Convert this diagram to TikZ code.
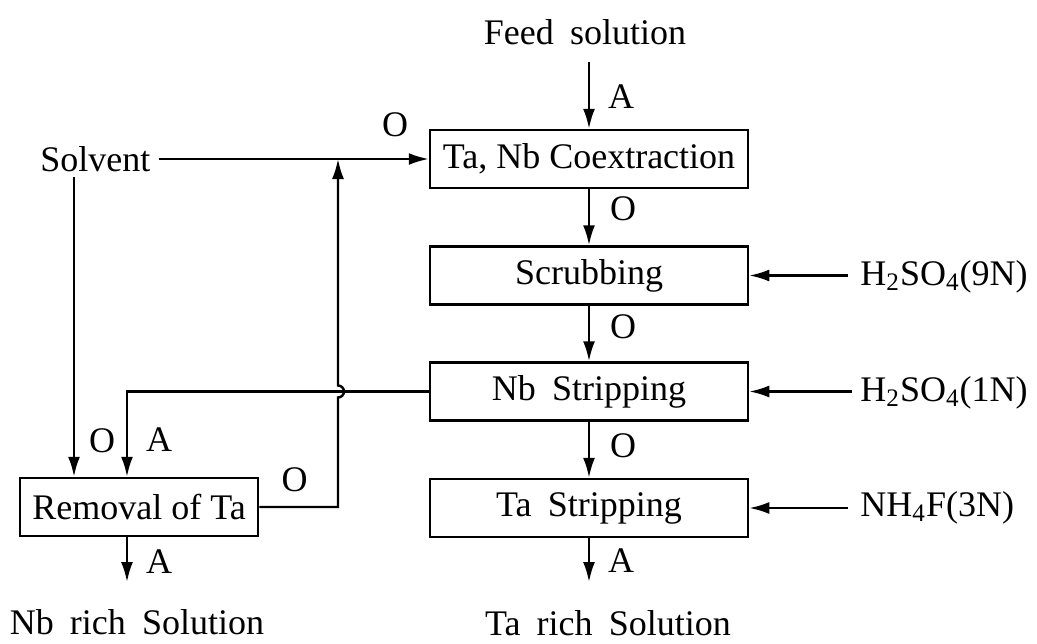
\documentclass[tikz,border=0pt]{standalone}
\usepackage{fontspec}
\setmainfont{Liberation Serif}
\usetikzlibrary{arrows.meta}
\newcommand\wsp{\hspace{0.45em}}
\begin{document}
\begin{tikzpicture}[x=0.5pt,y=-0.5pt,
  txt/.style={font=\fontsize{18}{21}\selectfont},
  box/.style={draw,line width=1.25pt,minimum height=29pt,inner sep=0pt,txt},
  lbl/.style={inner sep=0pt,txt},
  flow/.style={line width=1.2pt,-{Latex[length=10pt,width=6pt]}},
  plain/.style={line width=1.2pt}]
\fill[white] (0,0) rectangle (1037,643);
\useasboundingbox (0,0) rectangle (1037,643);

% process boxes
\node[box,minimum width=159pt] (coex)  at (589,159)   {Ta, Nb Coextraction};
\node[box,minimum width=159pt] (scrub) at (589,275.5) {Scrubbing};
\node[box,minimum width=159pt] (nbs)   at (589,391.5) {Nb\wsp Stripping};
\node[box,minimum width=159pt] (tas)   at (589,508)   {Ta\wsp Stripping};
\node[box,minimum width=119pt] (rem)   at (139,507)   {Removal of Ta};

% texts
\node[lbl] (feed) at (585,32) {Feed\wsp solution};
\node[lbl,anchor=west] (solv) at (40,159) {Solvent};
\node[lbl,anchor=west] (h9) at (860,277) {H\textsubscript{2}SO\textsubscript{4}(9N)};
\node[lbl,anchor=west] (h1) at (860,393) {H\textsubscript{2}SO\textsubscript{4}(1N)};
\node[lbl,anchor=west] (nh) at (860,508) {NH\textsubscript{4}F(3N)};
\node[lbl] (nbsol) at (137,622) {Nb\wsp rich\wsp Solution};
\node[lbl] (tasol) at (608,623) {Ta\wsp rich\wsp Solution};
\node[lbl] (osolv) at (395,125) {O};

% helper coordinates
\coordinate (f0) at (589,62);
\coordinate (j)  at (338,159);
\coordinate (cr) at (338,391.5);
\coordinate (a1) at (127,391.5);
\coordinate (s1) at (74,177);
\coordinate (r1) at (848,275.5);
\coordinate (r2) at (852,391.5);
\coordinate (r3) at (848,508);
\coordinate (nbend) at (127,582);
\coordinate (taend) at (589,582);

% main column
\draw[flow] (f0) -- node[lbl,right=9pt,pos=0.52]{A} (coex.north);
\draw[flow] (coex.south) -- node[lbl,right=10pt,pos=0.35]{O} (scrub.north);
\draw[flow] (scrub.south) -- node[lbl,right=10pt,pos=0.38]{O} (nbs.north);
\draw[flow] (nbs.south) -- node[lbl,right=10pt,pos=0.42]{O} (tas.north);
\draw[flow] (tas.south) -- node[lbl,right=9pt,pos=0.5]{A} (taend);

% right feeds
\draw[flow] (r1) -- (scrub.east);
\draw[flow] (r2) -- (nbs.east);
\draw[flow] (r3) -- (tas.east);

% solvent
\draw[flow] ([xshift=4pt]solv.east) -- (coex.west);
\draw[flow] (s1) -- node[lbl,right=7pt,pos=0.88]{O} (s1 |- rem.north);

% Nb stripping aqueous to removal of Ta
\draw[flow] (nbs.west) -- (a1) -- node[lbl,right=9pt,pos=0.56]{A} (a1 |- rem.north);

% removal of Ta organic recycle
\draw[flow] (rem.east) -- node[lbl,above=7pt,pos=0.45]{O} (rem.east -| j)
  -- ([yshift=-3pt]cr) arc[start angle=-90,end angle=90,radius=3pt] -- (j);

% removal of Ta aqueous out
\draw[flow] (rem.south -| nbend) -- node[lbl,right=9pt,pos=0.55]{A} (nbend);
\end{tikzpicture}
\end{document}
